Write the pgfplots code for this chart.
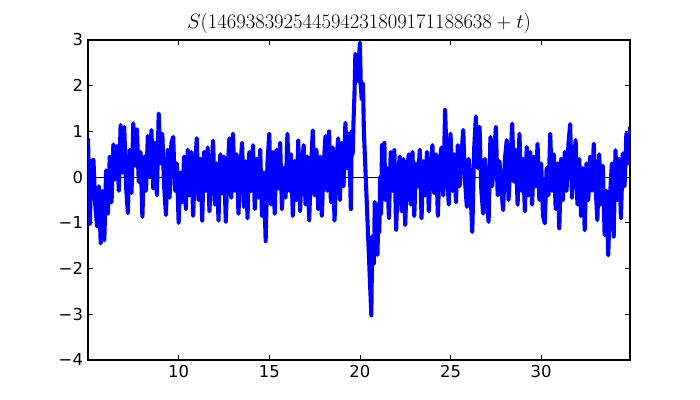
\documentclass[border=0pt]{standalone}
\usepackage{fontspec}
\setmainfont{DejaVu Sans}
\usepackage{pgfplots}
\pgfplotsset{compat=1.18}
\definecolor{mplblue}{RGB}{0,0,255}
\begin{document}
\begin{tikzpicture}
\useasboundingbox (-88bp,-40bp) rectangle (612bp,360bp);
\begin{axis}[
  at={(0,0)}, anchor=south west,
  scale only axis, width=542bp, height=320bp,
  xmin=5, xmax=34.9, ymin=-4, ymax=3,
  xtick={10,15,20,25,30}, xticklabels={10,15,20,25,30},
  ytick={-4,-3,-2,-1,0,1,2,3}, yticklabels={−4,−3,−2,−1,0,1,2,3},
  tick align=inside, major tick length=5bp,
  tick style={line width=0.8bp, black},
  axis line style={line width=1.2bp},
  ticklabel style={font=\fontsize{16.5}{19}\selectfont},
  xticklabel style={yshift=-1.5bp},
  yticklabel style={xshift=-1.5bp},
  title={$S(146938392544594231809171188638+t)$},
  title style={font=\fontsize{20}{24}\selectfont, anchor=base, at={(axis description cs:0.5,1)}, yshift=6bp},
  clip=true,
]
\addplot[black, line width=1.2bp] coordinates {(5,0) (34.9,0)};
\addplot[mplblue, line width=4.1bp, line join=round] table[row sep=\\] {
x y\\
5.0 0.85\\ 5.1 -1.02\\ 5.2 0.35\\ 5.3 0.38\\ 5.4 -0.6\\ 5.5 -1.08\\ 5.6 -0.2\\ 5.7 -1.45\\ 5.8 -0.3\\ 5.9 -1.38\\
6.0 0.15\\ 6.1 -0.8\\ 6.2 0.45\\ 6.3 -0.55\\ 6.4 0.72\\ 6.5 -0.05\\ 6.6 0.68\\ 6.7 -0.3\\ 6.8 1.14\\ 6.9 0.1\\
7.0 1.1\\ 7.1 -0.2\\ 7.2 -0.79\\ 7.3 0.6\\ 7.4 -0.35\\ 7.5 1.18\\ 7.6 0.25\\ 7.7 1.05\\ 7.8 -0.1\\ 7.9 0.55\\
8.0 -0.87\\ 8.1 0.45\\ 8.2 -0.3\\ 8.3 0.9\\ 8.4 0.0\\ 8.5 1.03\\ 8.6 -0.25\\ 8.7 0.75\\ 8.8 -0.4\\ 8.9 1.39\\
9.0 0.3\\ 9.1 0.95\\ 9.2 -0.2\\ 9.3 -0.83\\ 9.4 0.6\\ 9.5 -0.45\\ 9.6 0.75\\ 9.7 0.88\\ 9.8 -0.3\\ 9.9 0.3\\
10.0 -1.0\\ 10.1 0.1\\ 10.2 -0.55\\ 10.3 0.45\\ 10.4 -0.7\\ 10.5 0.6\\ 10.6 -0.4\\ 10.7 0.55\\ 10.8 -0.85\\ 10.9 0.2\\
11.0 0.85\\ 11.1 -0.5\\ 11.2 0.4\\ 11.3 -0.95\\ 11.4 0.55\\ 11.5 -0.3\\ 11.6 0.65\\ 11.7 -0.75\\ 11.8 0.1\\ 11.9 0.8\\
12.0 -0.6\\ 12.1 0.3\\ 12.2 -0.95\\ 12.3 0.5\\ 12.4 -0.35\\ 12.5 0.45\\ 12.6 -0.98\\ 12.7 0.15\\ 12.8 0.85\\ 12.9 -0.45\\
13.0 0.95\\ 13.1 -0.3\\ 13.2 0.5\\ 13.3 -0.8\\ 13.4 0.2\\ 13.5 0.75\\ 13.6 -0.65\\ 13.7 0.35\\ 13.8 -0.9\\ 13.9 0.55\\
14.0 -0.3\\ 14.1 0.7\\ 14.2 -0.7\\ 14.3 0.4\\ 14.4 -0.45\\ 14.5 0.6\\ 14.6 -0.85\\ 14.7 0.1\\ 14.8 -1.4\\ 14.9 0.3\\
15.0 0.95\\ 15.1 -0.6\\ 15.2 0.55\\ 15.3 -0.8\\ 15.4 0.6\\ 15.5 -0.25\\ 15.6 0.75\\ 15.7 -0.7\\ 15.8 0.2\\ 15.9 -0.45\\
16.0 0.95\\ 16.1 -0.3\\ 16.2 0.5\\ 16.3 -0.85\\ 16.4 0.35\\ 16.5 -0.5\\ 16.6 0.8\\ 16.7 -0.75\\ 16.8 0.25\\ 16.9 0.7\\
17.0 -0.6\\ 17.1 0.45\\ 17.2 -0.95\\ 17.3 0.15\\ 17.4 1.02\\ 17.5 -0.4\\ 17.6 0.6\\ 17.7 -0.7\\ 17.8 0.45\\ 17.9 -0.85\\
18.0 0.25\\ 18.1 0.9\\ 18.2 -0.3\\ 18.3 1.0\\ 18.4 -0.55\\ 18.5 0.65\\ 18.6 -0.95\\ 18.7 0.3\\ 18.8 0.85\\ 18.9 -0.5\\
19.0 0.75\\ 19.1 -0.2\\ 19.2 1.19\\ 19.3 0.2\\ 19.4 0.95\\ 19.5 -0.7\\ 19.55 1.0\\ 19.6 0.5\\ 19.65 1.25\\ 19.7 1.8\\
19.75 2.7\\ 19.8 2.3\\ 19.85 2.5\\ 19.9 2.1\\ 19.95 2.6\\ 20.0 2.94\\ 20.05 2.0\\ 20.1 1.7\\ 20.17 2.05\\ 20.22 1.0\\
20.63 -3.02\\ 20.68 -1.3\\ 20.72 -1.6\\ 20.77 -1.9\\ 20.82 -0.55\\ 20.87 -1.5\\ 20.92 -1.2\\ 20.97 -1.7\\ 21.02 -0.6\\ 21.07 -1.2\\
21.12 0.0\\ 21.17 -0.8\\ 21.22 0.7\\ 21.3 -0.3\\ 21.35 0.75\\ 21.4 -0.5\\ 21.5 0.2\\ 21.6 -0.9\\ 21.7 0.55\\ 21.8 -0.3\\ 21.9 0.6\\
22.0 -1.15\\ 22.1 0.1\\ 22.2 0.45\\ 22.3 -0.75\\ 22.4 0.4\\ 22.5 -1.05\\ 22.6 0.2\\ 22.7 0.5\\ 22.8 -0.6\\ 22.9 0.55\\
23.0 -0.85\\ 23.1 0.3\\ 23.2 -0.2\\ 23.3 0.6\\ 23.4 -0.9\\ 23.5 0.35\\ 23.6 -0.4\\ 23.7 0.55\\ 23.8 -0.75\\ 23.9 0.15\\
24.0 0.7\\ 24.1 -0.35\\ 24.2 0.5\\ 24.3 -0.85\\ 24.4 0.3\\ 24.5 0.65\\ 24.6 -0.4\\ 24.7 1.47\\ 24.8 0.2\\ 24.9 -0.6\\
25.0 0.95\\ 25.1 -0.3\\ 25.2 0.5\\ 25.3 -0.55\\ 25.4 0.7\\ 25.5 -0.2\\ 25.6 0.45\\ 25.7 1.03\\ 25.8 -0.1\\ 25.9 -0.65\\
26.0 0.4\\ 26.1 -0.3\\ 26.2 -1.2\\ 26.3 0.6\\ 26.4 1.33\\ 26.5 0.2\\ 26.6 1.1\\ 26.7 -0.3\\ 26.8 -0.8\\ 26.9 0.4\\
27.0 -0.45\\ 27.1 -0.98\\ 27.2 0.88\\ 27.3 -0.2\\ 27.4 0.5\\ 27.5 1.1\\ 27.6 -0.4\\ 27.7 0.35\\ 27.8 -0.25\\ 27.9 -0.72\\
28.0 0.4\\ 28.1 0.81\\ 28.2 -0.5\\ 28.3 0.3\\ 28.4 1.17\\ 28.5 -0.1\\ 28.6 0.6\\ 28.7 -0.6\\ 28.8 0.95\\ 28.9 -0.3\\
29.0 0.4\\ 29.1 -0.75\\ 29.2 0.66\\ 29.3 -0.4\\ 29.4 0.55\\ 29.5 -0.6\\ 29.6 0.45\\ 29.7 -0.2\\ 29.8 0.73\\ 29.9 -0.5\\
30.0 0.3\\ 30.1 -0.85\\ 30.2 -1.01\\ 30.3 0.2\\ 30.4 -0.4\\ 30.5 0.95\\ 30.6 -0.3\\ 30.7 0.5\\ 30.8 -0.7\\ 30.9 0.3\\
31.0 -1.12\\ 31.1 0.4\\ 31.2 -0.5\\ 31.3 0.55\\ 31.4 -0.3\\ 31.5 0.7\\ 31.6 1.16\\ 31.7 -0.45\\ 31.8 0.35\\ 31.9 0.81\\
32.0 -0.6\\ 32.1 0.4\\ 32.2 -0.85\\ 32.3 0.2\\ 32.4 -1.16\\ 32.5 0.3\\ 32.6 -0.5\\ 32.7 0.45\\ 32.8 -0.3\\ 32.9 0.73\\
33.0 -0.2\\ 33.1 -0.94\\ 33.2 0.5\\ 33.3 -0.6\\ 33.4 0.25\\ 33.5 -1.27\\ 33.6 -0.3\\ 33.7 -1.71\\ 33.8 -0.4\\ 33.9 0.3\\
34.0 -1.3\\ 34.1 0.59\\ 34.2 -0.5\\ 34.3 0.4\\ 34.4 -0.9\\ 34.5 0.52\\ 34.6 -0.2\\ 34.7 0.95\\ 34.8 0.3\\ 34.9 1.1\\
};
\end{axis}
\end{tikzpicture}
\end{document}
